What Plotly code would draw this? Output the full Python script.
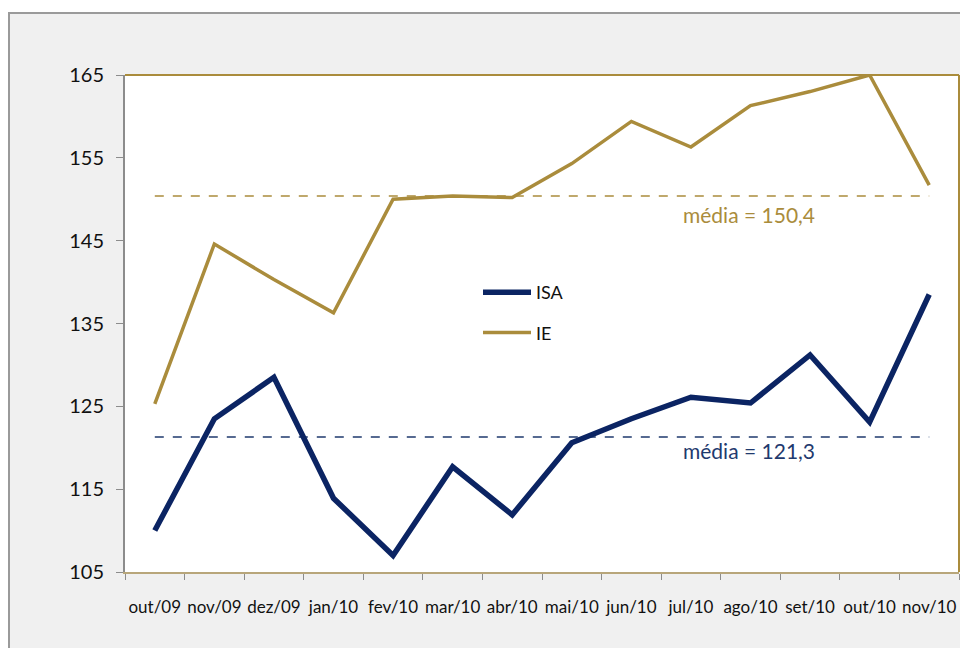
import plotly.graph_objects as go

months = ["out/09", "nov/09", "dez/09", "jan/10", "fev/10", "mar/10", "abr/10",
          "mai/10", "jun/10", "jul/10", "ago/10", "set/10", "out/10", "nov/10"]
isa = [110.0, 123.5, 128.5, 113.9, 107.0, 117.7, 111.9, 120.6, 123.5, 126.1, 125.4, 131.2, 123.1, 138.5]
ie = [125.3, 144.6, 140.3, 136.3, 150.0, 150.4, 150.2, 154.3, 159.4, 156.3, 161.3, 163.0, 165.0, 151.7]
isa_mean = 121.3
ie_mean = 150.4
y_ticks = [105, 115, 125, 135, 145, 155, 165]

GOLD = "#AA8C3C"
NAVY = "#0B2463"
BLUE_TXT = "#1F3A6E"
FONT = "Lato"

# page offset (browser body margin) of 8px; keep figure inside the viewport
OFF = 8
W, H = 968 - 2 * OFF, 656 - 2 * OFF
L, T = 125 - OFF, 75 - OFF
R = W - (959 - OFF)
B = H - (572 - OFF)
pw, ph = W - L - R, H - T - B

fig = go.Figure()
fig.add_trace(go.Scatter(x=months, y=[isa_mean] * len(months), mode="lines",
                         line=dict(color=BLUE_TXT, width=1.5, dash="dash"),
                         showlegend=False, hoverinfo="skip"))
fig.add_trace(go.Scatter(x=months, y=[ie_mean] * len(months), mode="lines",
                         line=dict(color=GOLD, width=1.5, dash="dash"),
                         showlegend=False, hoverinfo="skip"))
fig.add_trace(go.Scatter(x=months, y=isa, mode="lines", name="ISA",
                         line=dict(color=NAVY, width=5.5), legendgroup="a"))
fig.add_trace(go.Scatter(x=months, y=ie, mode="lines", name="IE",
                         line=dict(color=GOLD, width=3.5), legendgroup="b"))

def px_to_paper_x(px):
    return (px - OFF - L) / pw

def px_to_paper_y(py):
    return 1 - (py - OFF - T) / ph

shapes = [
    dict(type="rect", xref="paper", yref="paper", layer="below",
         x0=px_to_paper_x(9), x1=px_to_paper_x(1100),
         y0=px_to_paper_y(800), y1=px_to_paper_y(13),
         fillcolor="#F0F0F0", line=dict(color="#9A9A9A", width=2)),
    dict(type="rect", xref="paper", yref="paper", layer="below",
         x0=0, x1=1, y0=0, y1=1, fillcolor="white", line=dict(width=0)),
    dict(type="line", xref="paper", yref="paper", layer="above",
         x0=0, x1=1, y0=1, y1=1, line=dict(color=GOLD, width=2)),
    dict(type="line", xref="paper", yref="paper", layer="above",
         x0=1, x1=1, y0=0, y1=1, line=dict(color=GOLD, width=2)),
]

annotations = [
    dict(text="média = 150,4", xref="paper", yref="y", x=px_to_paper_x(749), y=148.1,
         xanchor="center", yanchor="middle",
         showarrow=False, font=dict(family=FONT, size=21, color=GOLD)),
    dict(text="média = 121,3", xref="paper", yref="y", x=px_to_paper_x(749), y=119.7,
         xanchor="center", yanchor="middle",
         showarrow=False, font=dict(family=FONT, size=21, color=BLUE_TXT)),
]

fig.update_layout(
    width=W, height=H,
    margin=dict(l=L, r=R, t=T, b=B, pad=0, autoexpand=False),
    paper_bgcolor="white",
    plot_bgcolor="white",
    font=dict(family=FONT, color="#111111"),
    shapes=shapes,
    annotations=annotations,
    legend=dict(x=px_to_paper_x(478), y=px_to_paper_y(274), xanchor="left", yanchor="top",
                bgcolor="rgba(0,0,0,0)", font=dict(family=FONT, size=18, color="#111111"),
                tracegroupgap=14, itemwidth=48),
    showlegend=True,
)
fig.update_xaxes(type="category", range=[-0.5, len(months) - 0.5], tickson="boundaries",
                 ticks="outside", ticklen=6, tickcolor="#8C8C8C", showline=True,
                 linecolor="#B8A67A", linewidth=2, showgrid=False, zeroline=False,
                 tickangle=0, automargin=False,
                 tickfont=dict(family=FONT, size=17, color="#111111"), ticklabelstandoff=19)
fig.update_yaxes(range=[105, 165], tickvals=y_ticks, ticks="outside", ticklen=7,
                 tickcolor="#8C8C8C", showline=True, linecolor="#8C8C8C", linewidth=2,
                 showgrid=False, zeroline=False, automargin=False,
                 tickfont=dict(family=FONT, size=20, color="#111111"), ticklabelstandoff=8)

fig.write_html("out.html")
